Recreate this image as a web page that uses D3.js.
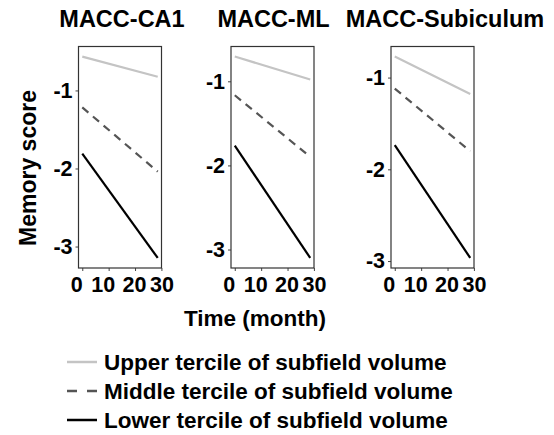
<!DOCTYPE html>
<html>
<head>
<meta charset="utf-8">
<script src="https://cdn.jsdelivr.net/npm/d3@7"></script>
<style>
  html, body { margin: 0; padding: 0; background: #fff; }
  svg { display: block; }
  text { font-family: "Liberation Sans", Arial, Helvetica, sans-serif; font-weight: bold; fill: #000; }
</style>
</head>
<body>
<svg id="chart" width="554" height="435"></svg>
<script>
// ---- data ----
const panels = ["MACC-CA1", "MACC-ML", "MACC-Subiculum"];
const months = [0, 28.6];
const upperTercile  = [[-0.566, -0.825], [-0.706, -0.978], [-0.771, -1.178]];
const middleTercile = [[-1.218, -2.040], [-1.166, -1.898], [-1.120, -1.803]];
const lowerTercile  = [[-1.810, -3.146], [-1.766, -3.100], [-1.737, -2.966]];
const xTickValues = [0, 10, 20, 30];
const yTickValues = [-1, -2, -3];
const legendLabels = [
  "Upper tercile of subfield volume",
  "Middle tercile of subfield volume",
  "Lower tercile of subfield volume"
];

// ---- styles ----
const seriesStyle = [
  { color: "#c4c4c4", dash: null, width: 2.2 },
  { color: "#555555", dash: "8,6", width: 2.2 },
  { color: "#000000", dash: null, width: 2.2 }
];
const xLabelNudge = [-6, -6, -1, 0];

const svg = d3.select("#chart");
const panelLeft = [78.5, 231, 391];
const panelW = 83;
const panelTop = 46.5, panelBottom = 268;
const titleX = [122, 273.5, 445];

function expand(ext) {
  const d = ext[1] - ext[0];
  return [ext[0] - d * 0.05, ext[1] + d * 0.05];
}

panels.forEach((name, i) => {
  const series = [upperTercile[i], middleTercile[i], lowerTercile[i]];
  const allY = series.flat();
  const x = d3.scaleLinear().domain(expand(d3.extent(months)))
    .range([panelLeft[i], panelLeft[i] + panelW]);
  const y = d3.scaleLinear().domain(expand(d3.extent(allY)))
    .range([panelBottom, panelTop]);

  const g = svg.append("g");

  // title
  g.append("text").attr("x", titleX[i]).attr("y", 27)
    .attr("text-anchor", "middle").style("font-size", "23.5px").text(name);

  // lines
  const line = d3.line().x((d, k) => x(months[k])).y(d => y(d));
  series.forEach((s, k) => {
    g.append("path").datum(s).attr("d", line)
      .attr("fill", "none")
      .attr("stroke", seriesStyle[k].color)
      .attr("stroke-width", seriesStyle[k].width)
      .attr("stroke-dasharray", seriesStyle[k].dash);
  });

  // axes
  const fmt = d => String(d);
  const xAxis = g.append("g").attr("transform", `translate(0,${panelBottom})`)
    .call(d3.axisBottom(x).tickValues(xTickValues).tickFormat(fmt).tickSize(3).tickPadding(6));
  const yAxis = g.append("g").attr("transform", `translate(${panelLeft[i]},0)`)
    .call(d3.axisLeft(y).tickValues(yTickValues).tickFormat(fmt).tickSize(3).tickPadding(3));
  [xAxis, yAxis].forEach(a => {
    a.select(".domain").remove();
    a.selectAll(".tick line").attr("stroke", "#444");
    a.selectAll(".tick text").style("font-size", "21.5px")
      .style("font-family", '"Liberation Sans", Arial, sans-serif')
      .style("font-weight", "bold").attr("fill", "#000");
  });
  xAxis.selectAll(".tick text").attr("dx", (d, k) => xLabelNudge[k]);

  // panel border
  g.append("rect").attr("x", panelLeft[i]).attr("y", panelTop)
    .attr("width", panelW).attr("height", panelBottom - panelTop)
    .attr("fill", "none").attr("stroke", "#333").attr("stroke-width", 1.2);
});

// axis titles
svg.append("text").attr("transform", "translate(36,168) rotate(-90)")
  .attr("text-anchor", "middle").style("font-size", "23px").text("Memory score");
svg.append("text").attr("x", 255).attr("y", 326)
  .attr("text-anchor", "middle").style("font-size", "22.5px").text("Time (month)");

// legend
const legendY = [362, 391, 420];
legendLabels.forEach((lab, k) => {
  const lg = svg.append("g");
  lg.append("line").attr("x1", 67).attr("x2", 97)
    .attr("y1", legendY[k]).attr("y2", legendY[k])
    .attr("stroke", seriesStyle[k].color).attr("stroke-width", 2.5)
    .attr("stroke-dasharray", k === 1 ? "10,10" : null);
  lg.append("text").attr("x", 104).attr("y", legendY[k] + 8)
    .style("font-size", "22.5px").text(lab);
});
</script>
</body>
</html>
